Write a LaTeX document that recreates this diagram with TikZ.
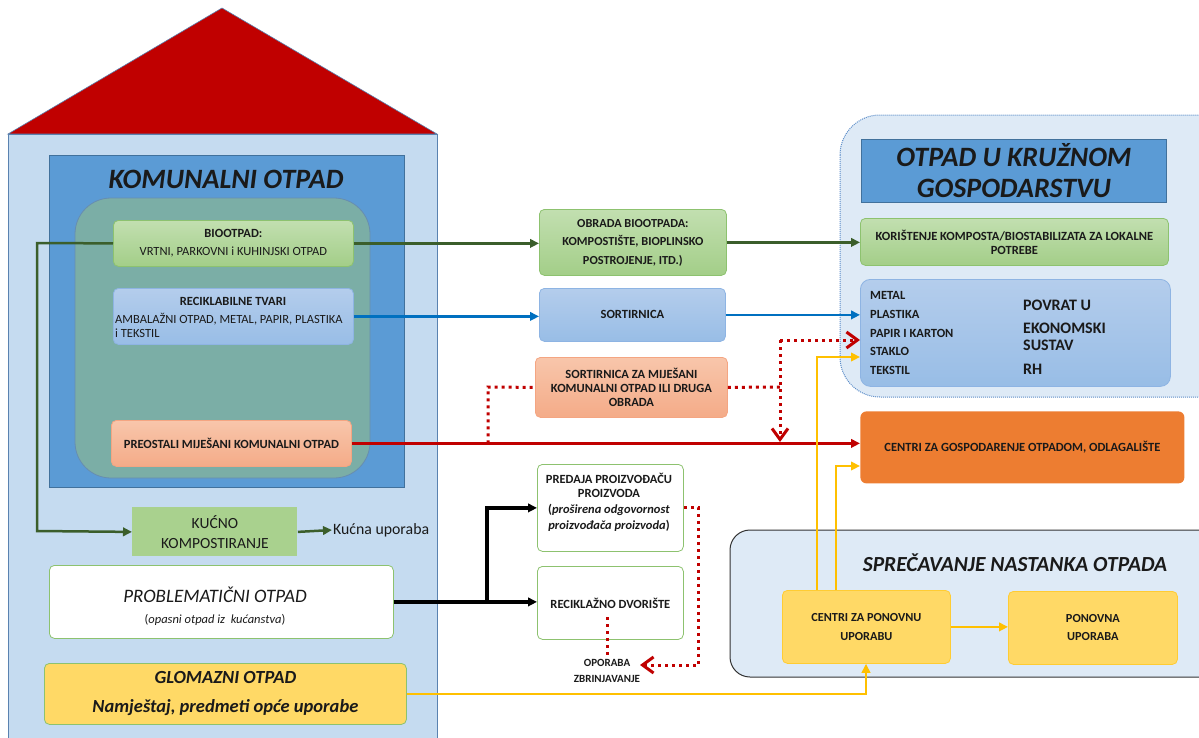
\documentclass[tikz,border=0pt]{standalone}
\usepackage{fontspec}
\setmainfont{Carlito}
\usetikzlibrary{arrows.meta}
\definecolor{roof}{HTML}{C00000}
\definecolor{house}{HTML}{C5DBF0}
\definecolor{housebd}{HTML}{5A82B0}
\definecolor{dblue}{HTML}{5B9BD5}
\definecolor{dbd}{HTML}{41719C}
\definecolor{teal1}{HTML}{7BAEA6}
\definecolor{gtop}{HTML}{C2DFB0}
\definecolor{gbot}{HTML}{A3CE88}
\definecolor{gbd}{HTML}{8DC26F}
\definecolor{btop}{HTML}{B4CDEC}
\definecolor{bbot}{HTML}{98BDE6}
\definecolor{bbd}{HTML}{8EB4E3}
\definecolor{saltop}{HTML}{F8C6AB}
\definecolor{salbot}{HTML}{F4AB88}
\definecolor{salbd}{HTML}{F4A582}
\definecolor{kgreen}{HTML}{A9D18E}
\definecolor{yel}{HTML}{FFD966}
\definecolor{ybd}{HTML}{FFCC33}
\definecolor{orange1}{HTML}{ED7D31}
\definecolor{clight}{HTML}{DEEAF6}
\definecolor{cblue}{HTML}{5B8CC8}
\definecolor{dgreen}{HTML}{3B5E2B}
\definecolor{lblue}{HTML}{0070C0}
\definecolor{red1}{HTML}{C00000}
\definecolor{yline}{HTML}{FFC000}
\definecolor{txt}{HTML}{1A1A1A}
\begin{document}
\begin{tikzpicture}[x=1pt,y=-1pt,
  every node/.style={font=\fontsize{12.5}{14}\selectfont, text=txt},
  box/.style={draw, rounded corners=5pt, anchor=north west, align=center, inner sep=1pt, line width=0.8pt},
  gbox/.style={box, draw=gbd, top color=gtop, bottom color=gbot},
  bbox/.style={box, draw=bbd, top color=btop, bottom color=bbot},
  sbox/.style={box, draw=salbd, top color=saltop, bottom color=salbot},
  ybox/.style={box, draw=ybd, fill=yel},
  wbox/.style={box, draw=gbd, fill=white},
  bt/.style={font=\fontsize{12.5}{14}\selectfont\bfseries},
  arr/.style={-{Triangle[length=9pt,width=8.5pt]}},
  gline/.style={arr, draw=dgreen, line width=2.5pt},
  bline/.style={arr, draw=lblue, line width=2.2pt},
  rline/.style={arr, draw=red1, line width=2.5pt},
  yl/.style={arr, draw=yline, line width=2.5pt},
  kline/.style={arr, draw=black, line width=3.2pt},
  rdot/.style={draw=red1, line width=3pt, dash pattern=on 3pt off 4pt},
  barb/.style={-{Straight Barb[length=11pt,width=16pt]}}
]
\useasboundingbox (0,0) rectangle (1199,737);
% house
\fill[roof, draw=housebd, line width=0.6pt] (8,134) -- (222,8) -- (437,134) -- cycle;
\draw[fill=house, draw=housebd, line width=1pt] (8,134) rectangle (437,745);
\draw[fill=dblue, draw=dbd, line width=1pt] (49,155) rectangle (404,487);
\node[font=\fontsize{28}{32}\selectfont\bfseries\itshape] (komt) at (226,179) {KOMUNALNI OTPAD};
\draw[fill=teal1, draw=dbd!80, line width=0.8pt, rounded corners=36pt] (75,198) rectangle (370,478);
% right containers
\draw[draw=cblue, densely dotted, fill=clight, rounded corners=40pt, line width=1pt] (840,115) rectangle (1240,397);
\draw[draw=black!80, fill=clight, rounded corners=20pt, line width=1pt] (730,530) rectangle (1240,677);
% left nodes
\node[gbox, minimum width=240pt, minimum height=46pt, font=\fontsize{12.5}{18}\selectfont] (bio) at (113,220) {\textbf{BIOOTPAD:}\\VRTNI, PARKOVNI i KUHINJSKI OTPAD};
\node[bbox, minimum width=240pt, minimum height=56pt] (rec) at (113,288) {};
\node[bt] (rect) at (233,301) {RECIKLABILNE TVARI};
\node[anchor=north west, align=left, inner sep=0pt, font=\fontsize{12.5}{14}\selectfont] (recl) at (115,313) {AMBALAŽNI OTPAD, METAL, PAPIR, PLASTIKA\\i TEKSTIL};
\node[sbox, minimum width=240pt, minimum height=46pt, bt] (pre) at (111,420) {PREOSTALI MIJEŠANI KOMUNALNI OTPAD};
\node[box, draw=none, fill=kgreen, rounded corners=0pt, minimum width=165pt, minimum height=49pt, font=\fontsize{15.5}{19.5}\selectfont] (kuc) at (132,507) {KUĆNO\\KOMPOSTIRANJE};
\node[anchor=west, inner sep=1pt, font=\fontsize{15.8}{18}\selectfont] (kup) at (332,530) {Kućna uporaba};
\node[wbox, minimum width=344pt, minimum height=73pt] (pro) at (49,565) {};
\node[font=\fontsize{19}{22}\selectfont\itshape] (prot) at (215,595) {PROBLEMATIČNI OTPAD};
\node[font=\fontsize{12.5}{14}\selectfont] (pros) at (215,620) {(\textit{opasni otpad iz\ \ kućanstva})};
\node[ybox, draw=gbd, minimum width=362pt, minimum height=61pt, font=\fontsize{18.5}{29}\selectfont\bfseries\itshape] (glo) at (44,663) {GLOMAZNI OTPAD\\Namještaj, predmeti opće uporabe};
% middle nodes
\node[gbox, minimum width=187pt, minimum height=66pt, font=\fontsize{12.3}{18.5}\selectfont\bfseries] (obr) at (539,209) {OBRADA BIOOTPADA:\\KOMPOSTIŠTE, BIOPLINSKO\\POSTROJENJE, ITD.)};
\node[bbox, minimum width=186pt, minimum height=53pt, bt] (sort) at (539,288) {SORTIRNICA};
\node[sbox, minimum width=192pt, minimum height=60pt, font=\fontsize{12.5}{14}\selectfont\bfseries] (smi) at (535,357) {SORTIRNICA ZA MIJEŠANI\\KOMUNALNI OTPAD ILI DRUGA\\OBRADA};
\node[wbox, minimum width=146pt, minimum height=87pt] (pred) at (537,464) {};
\node[align=center, font=\fontsize{12.5}{14}\selectfont\bfseries] (predt) at (609,485) {PREDAJA PROIZVOĐAČU\\PROIZVODA};
\node[align=center, font=\fontsize{12.5}{16}\selectfont\bfseries] (preds) at (609,518) {(\textit{proširena odgovornost}\\\textit{proizvođača proizvoda})};
\node[wbox, minimum width=146pt, minimum height=73pt, bt] (rd) at (537,566) {RECIKLAŽNO DVORIŠTE};
\node[align=center, font=\fontsize{11}{16}\selectfont\bfseries] (opo) at (607,671) {OPORABA\\ZBRINJAVANJE};
% right nodes
\node[box, rounded corners=0pt, fill=dblue, draw=dbd, minimum width=305pt, minimum height=63pt, font=\fontsize{28}{31}\selectfont\bfseries\itshape] (tit2) at (861,139) {OTPAD U KRUŽNOM\\GOSPODARSTVU};
\node[gbox, minimum width=308pt, minimum height=47pt, font=\fontsize{12.5}{14}\selectfont\bfseries] (kor) at (860,218) {KORIŠTENJE KOMPOSTA/BIOSTABILIZATA ZA LOKALNE\\POTREBE};
\node[bbox, minimum width=310pt, minimum height=107pt, rounded corners=10pt] (recy) at (860,279) {};
\foreach \t/\yy [count=\i] in {METAL/295, PLASTIKA/314, PAPIR I KARTON/333, STAKLO/351, TEKSTIL/370}
  \node[anchor=west, inner sep=0pt, font=\fontsize{12.5}{14}\selectfont\bfseries] (li\i) at (870,\yy) {\t};
\foreach \t/\yy [count=\i] in {POVRAT U/305, EKONOMSKI/328, SUSTAV/345, RH/369}
  \node[anchor=west, inner sep=0pt, font=\fontsize{16}{18}\selectfont\bfseries] (ri\i) at (1023,\yy) {\t};
\node[box, draw=none, fill=orange1, rounded corners=6pt, minimum width=324pt, minimum height=72pt, bt] (cgo) at (860,411) {CENTRI ZA GOSPODARENJE OTPADOM, ODLAGALIŠTE};
\node[font=\fontsize{21.5}{24}\selectfont\bfseries\itshape] (sprt) at (1015,563) {SPREČAVANJE NASTANKA OTPADA};
\node[ybox, minimum width=168pt, minimum height=73pt, font=\fontsize{12.3}{19}\selectfont\bfseries] (cpu) at (782,590) {CENTRI ZA PONOVNU\\UPORABU};
\node[ybox, minimum width=169pt, minimum height=73pt, font=\fontsize{12.3}{18}\selectfont\bfseries] (pon) at (1008,591) {PONOVNA\\UPORABA};
% connectors
\draw[gline] (bio.west) -- (37,243) -- (37,531) -- (kuc.west);
\draw[gline] (kuc.east) -- (kup.west);
\draw[gline] (bio.east) -- (bio.east -| obr.west);
\draw[gline] (obr.east) -- (obr.east -| kor.west);
\draw[bline] (rec.east) -- (rec.east -| sort.west);
\draw[bline] (sort.east) -- (sort.east -| recy.west);
\draw[rline] (pre.east) -- (pre.east -| cgo.west);
\draw[rdot] (pre.east -| 488,0) -- (488,387) -- (smi.west);
\draw[rdot] (smi.east) -- (780,387);
\coordinate (rj) at (780,340);
\draw[rdot, barb] (rj) -- (780,442);
\draw[rdot, barb] (rj) -- (rj -| recy.west);
\draw[yl] ([xshift=35pt]cpu.north west) |- (recy.west |- 0,357);
\draw[yl] ([xshift=54pt]cpu.north west) |- (cgo.west |- 0,466);
\draw[yl] (glo.east) -| ([xshift=84pt]cpu.south west);
\draw[yl] (cpu.east) -- (cpu.east -| pon.west);
\coordinate (bj) at (pro.east -| 487,0);
\draw[kline] (pro.east) -- (pro.east -| rd.west);
\draw[kline] (bj) |- (pred.west);
\coordinate (opoe) at (640,665);
\draw[rdot, barb] (pred.east) -- ++(15,0) |- (opoe);
\draw[rdot] (607,617) -- (opo.north -| 607,0);
\end{tikzpicture}
\end{document}
